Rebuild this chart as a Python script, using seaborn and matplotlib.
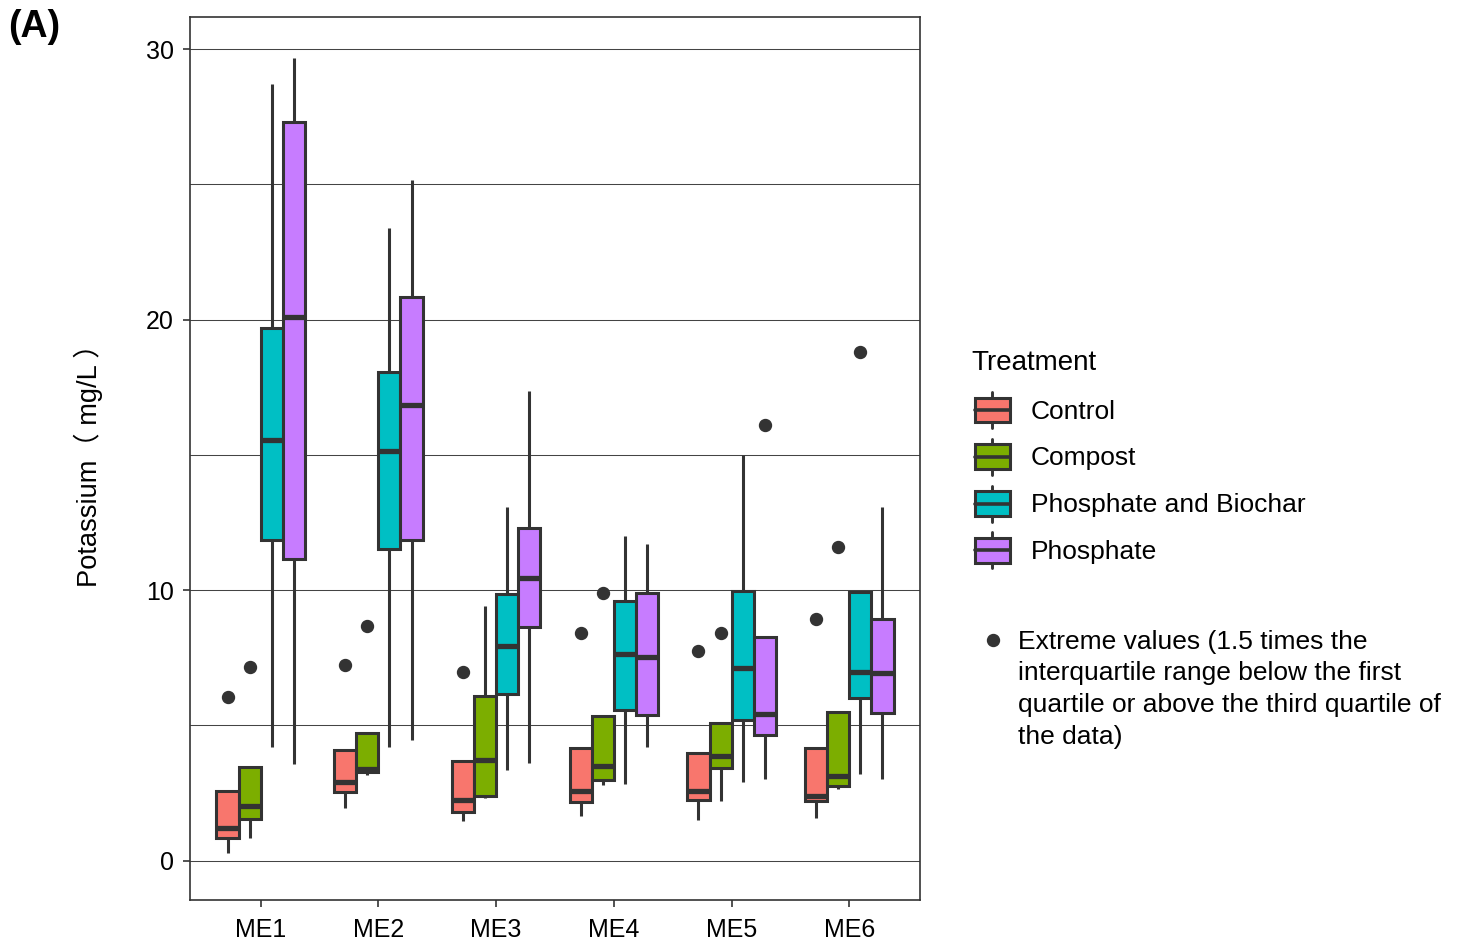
import numpy as np
import pandas as pd
import matplotlib
matplotlib.use("Agg")
import matplotlib.pyplot as plt
from matplotlib.legend_handler import HandlerBase
from matplotlib.patches import Rectangle, Patch
from matplotlib.lines import Line2D
import seaborn as sns

# ---------------------------------------------------------------- data
sites = ["ME1", "ME2", "ME3", "ME4", "ME5", "ME6"]
treatments = ["Control", "Compost", "Phosphate and Biochar", "Phosphate"]
palette = ["#F8766D", "#7CAE00", "#00BFC4", "#C77CFF"]

# per site: (lower whisker, Q1, median, Q3, upper whisker), mg/L
control_stats = [
    (0.28, 0.84, 1.21, 2.56, 2.56),
    (1.94, 2.55, 2.90, 4.09, 4.09),
    (1.48, 1.79, 2.24, 3.67, 3.67),
    (1.63, 2.16, 2.57, 4.18, 4.18),
    (1.51, 2.25, 2.59, 3.97, 3.97),
    (1.58, 2.19, 2.37, 4.17, 4.17),
]
compost_stats = [
    (0.84, 1.53, 2.00, 3.45, 3.45),
    (3.17, 3.27, 3.38, 4.71, 4.71),
    (2.32, 2.38, 3.73, 6.10, 9.42),
    (2.80, 2.98, 3.48, 5.34, 5.34),
    (2.22, 3.43, 3.88, 5.08, 5.08),
    (2.65, 2.77, 3.14, 5.51, 5.51),
]
biochar_stats = [
    (4.19, 11.84, 15.55, 19.69, 28.70),
    (4.19, 11.53, 15.14, 18.07, 23.38),
    (3.33, 6.17, 7.94, 9.84, 13.07),
    (2.84, 5.55, 7.62, 9.59, 11.99),
    (2.90, 5.20, 7.12, 9.96, 14.98),
    (3.21, 6.01, 6.97, 9.93, 9.93),
]
phosphate_stats = [
    (3.58, 11.16, 20.10, 27.30, 29.68),
    (4.44, 11.84, 16.85, 20.84, 25.17),
    (3.61, 8.63, 10.46, 12.29, 17.36),
    (4.19, 5.40, 7.52, 9.89, 11.69),
    (3.02, 4.66, 5.43, 8.26, 8.26),
    (3.02, 5.46, 6.94, 8.93, 13.07),
]

# extreme values (beyond 1.5 x IQR) per site
control_extremes = [[6.04], [7.24], [6.99], [8.41], [7.73], [8.94]]
compost_extremes = [[7.14], [8.68], [], [9.88], [8.42], [11.59]]
biochar_extremes = [[], [], [], [], [], [18.79]]
phosphate_extremes = [[], [], [], [], [16.09], []]


def sample_from_summary(lo, q1, med, q3, hi, extremes, k=4):
    """Observations whose quartiles, whisker ends and extremes equal the summary."""
    below = sorted(v for v in extremes if v < q1)
    above = sorted(v for v in extremes if v > q3)
    lower = below + [lo] + [q1] * (k - 1 - len(below))
    middle = [q1] * k + [med] + [q3] * k
    upper = [q3] * (k - 1 - len(above)) + [hi] + above
    return lower + middle + upper


rows = []
for name, stats, extremes in zip(
    treatments,
    [control_stats, compost_stats, biochar_stats, phosphate_stats],
    [control_extremes, compost_extremes, biochar_extremes, phosphate_extremes],
):
    for site, st, ex in zip(sites, stats, extremes):
        for v in sample_from_summary(*st, ex):
            rows.append({"site": site, "Treatment": name, "K": v})
df = pd.DataFrame(rows)

# ---------------------------------------------------------------- style
sns.set_theme(style="white")
plt.rcParams["font.family"] = ["Liberation Sans", "Noto Sans CJK SC", "DejaVu Sans"]
plt.rcParams["text.color"] = "black"
plt.rcParams["axes.labelcolor"] = "black"
DARK = "#333333"

W, H = 1465, 943
fig = plt.figure(figsize=(W / 100, H / 100), dpi=100)
fig.patch.set_facecolor("white")
ax = fig.add_axes([190 / W, (H - 899.5) / H, 730 / W, (899.5 - 17) / H])

sns.boxplot(
    data=df, x="site", y="K", hue="Treatment",
    order=sites, hue_order=treatments, palette=palette,
    saturation=1, width=0.75, gap=0, whis=1.5,
    linecolor=DARK, linewidth=2.2,
    fliersize=8.6,
    flierprops={"marker": "o", "markerfacecolor": DARK, "markeredgecolor": DARK},
    medianprops={"linewidth": 3.8, "color": DARK},
    showcaps=False, legend=False, ax=ax, zorder=3,
)

ax.set_xlim(-0.6, 5.6)
ax.set_ylim(-1.44, 31.19)
ax.set_yticks([0, 10, 20, 30])
ax.set_yticks([5, 15, 25], minor=True)
ax.grid(axis="y", which="both", color="#444444", linewidth=0.75, zorder=0)
ax.grid(axis="x", visible=False)
ax.set_axisbelow(True)

for sp in ax.spines.values():
    sp.set_visible(True)
    sp.set_color(DARK)
    sp.set_linewidth(1.2)

ax.tick_params(axis="y", which="major", length=5, width=1.2, color=DARK,
               labelsize=18, labelcolor="black", pad=6.5, left=True)
ax.tick_params(axis="y", which="minor", length=0)
ax.tick_params(axis="x", length=5, width=1.2, color=DARK,
               labelsize=18, labelcolor="black", pad=8.5, bottom=True)

ax.set_xlabel("")
ax.set_ylabel("Potassium（ mg/L ）", fontsize=19.6, color="black")
ax.yaxis.set_label_coords((103 - 190) / 730, 0.5)

# ---------------------------------------------------------------- legend
class BoxKeyHandler(HandlerBase):
    def create_artists(self, legend, orig_handle, xdescent, ydescent,
                       width, height, fontsize, trans):
        fc = orig_handle.get_facecolor()
        x0, y0 = -xdescent, -ydescent
        bx0, bx1 = x0 + 0.125 * width, x0 + 1.0 * width
        by0, by1 = y0 + 0.155 * height, y0 + 0.845 * height
        xm = (bx0 + bx1) / 2
        box = Rectangle((bx0, by0), bx1 - bx0, by1 - by0, facecolor=fc,
                        edgecolor=DARK, linewidth=2.2, transform=trans)
        med = Line2D([bx0, bx1], [(by0 + by1) / 2] * 2, color=DARK,
                     linewidth=2.6, transform=trans)
        wt = Line2D([xm, xm], [by1, y0 + height], color=DARK, linewidth=2.1,
                    transform=trans)
        wb = Line2D([xm, xm], [y0, by0], color=DARK, linewidth=2.1,
                    transform=trans)
        return [wt, wb, box, med]


fig.text(971 / W, 1 - 370 / H, "Treatment", fontsize=20, va="baseline",
         ha="left", color="black")

handles = [Patch(facecolor=c, edgecolor=DARK) for c in palette]
leg = fig.legend(
    handles, treatments,
    handler_map={Patch: BoxKeyHandler()},
    loc="upper left", bbox_to_anchor=(970 / W, 1 - 392 / H),
    frameon=False, fontsize=19, labelcolor="black",
    handlelength=1.515, handleheight=1.72, labelspacing=0.41,
    handletextpad=0.8, borderpad=0, borderaxespad=0,
)

# note on extreme values
fig.add_artist(Line2D([993 / W], [1 - 640 / H], marker="o", markersize=8.6,
                      color=DARK, transform=fig.transFigure))
fig.text(1018 / W, 1 - 629.5 / H,
         "Extreme values (1.5 times the\ninterquartile range below the first\n"
         "quartile or above the third quartile of\nthe data)",
         fontsize=19, va="top", ha="left", linespacing=1.42, color="black")

fig.text(8 / W, 1 - 9 / H, "(A)", fontsize=27, fontweight="bold",
         va="top", ha="left", color="black")

fig.savefig("out.png", dpi=100, facecolor="white")
